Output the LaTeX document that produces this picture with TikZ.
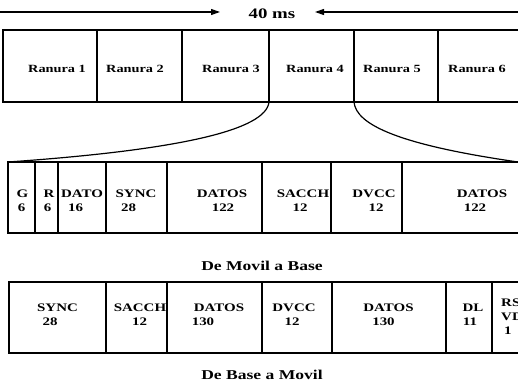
\documentclass[tikz,border=0pt]{standalone}
\usepackage{fontspec}
\setmainfont[FakeStretch=1.3]{Liberation Serif}
\usetikzlibrary{arrows.meta}
\tikzset{
  boxst/.style={draw, line width=1.2pt, inner sep=0pt, outer sep=0pt, rectangle},
  txt/.style={inner sep=0pt, font=\fontsize{11.5}{14}\selectfont\bfseries},
  rtxt/.style={inner sep=0pt, font=\fontsize{11}{13}\selectfont\bfseries},
  lbl/.style={inner sep=0pt, font=\fontsize{13.5}{16}\selectfont\bfseries},
  curve/.style={line width=1.2pt},
  timearrow/.style={line width=1.1pt, -{Triangle[length=9pt,width=6pt]}}
}
\newcommand\mybox[5]{\node[boxst, anchor=north west, minimum width={#3-#2}, minimum height={#5-#4}] (#1) at (#2,#4) {};}
\begin{document}
\begin{tikzpicture}[x=1pt,y=-1pt]
\useasboundingbox (0,0) rectangle (518,385);
\clip (0,0) rectangle (518,385);
\fill[white] (0,0) rectangle (518,385);
% time arrows
\node[lbl, font=\fontsize{14.5}{16}\selectfont\bfseries] (ms) at (272,14) {40 ms};
\coordinate (la) at (0,12);
\coordinate (lt) at (220,12);
\coordinate (ra) at (518,12);
\coordinate (rt) at (315,12);
\draw[timearrow] (la) -- (lt);
\draw[timearrow] (ra) -- (rt);
% top row
\mybox{r1}{3}{97}{30}{102}
\mybox{r2}{97}{182}{30}{102}
\mybox{r3}{182}{269}{30}{102}
\mybox{r4}{269}{354}{30}{102}
\mybox{r5}{354}{438}{30}{102}
\mybox{r6}{438}{530}{30}{102}
\node[rtxt] (t1) at (57,69) {Ranura 1};
\node[rtxt] (t2) at (135,69) {Ranura 2};
\node[rtxt] (t3) at (231,69) {Ranura 3};
\node[rtxt] (t4) at (315,69) {Ranura 4};
\node[rtxt] (t5) at (392,69) {Ranura 5};
\node[rtxt] (t6) at (477,69) {Ranura 6};
% middle row
\mybox{m1}{8}{35}{162}{233}
\mybox{m2}{35}{58}{162}{233}
\mybox{m3}{58}{106}{162}{233}
\mybox{m4}{106}{167}{162}{233}
\mybox{m5}{167}{262}{162}{233}
\mybox{m6}{262}{331}{162}{233}
\mybox{m7}{331}{402}{162}{233}
\mybox{m8}{402}{530}{162}{233}
\coordinate (mr) at (518,162);
\draw[curve] (r4.south west) .. controls (266,130) and (180,150) .. (m1.north west);
\draw[curve] (r4.south east) .. controls (356,125) and (400,145) .. (mr);
\node[txt] (a1) at (22.5,193.5) {G};   \node[txt] (a2) at (21.5,207.5) {6};
\node[txt] (b1) at (49,193.5) {R};     \node[txt] (b2) at (47.5,207.5) {6};
\node[txt] (c1) at (82,193.5) {DATO};  \node[txt] (c2) at (75.5,207.5) {16};
\node[txt] (d1) at (136,193.5) {SYNC}; \node[txt] (d2) at (128.5,207.5) {28};
\node[txt] (e1) at (222,193.5) {DATOS};\node[txt] (e2) at (223,207.5) {122};
\node[txt] (f1) at (303,193.5) {SACCH};\node[txt] (f2) at (300,207.5) {12};
\node[txt] (g1) at (374,193.5) {DVCC}; \node[txt] (g2) at (376,207.5) {12};
\node[txt] (h1) at (482,193.5) {DATOS};\node[txt] (h2) at (475,207.5) {122};
\node[lbl] (up) at (262,266) {De Movil a Base};
% bottom row
\mybox{n1}{9}{106}{282}{353}
\mybox{n2}{106}{167}{282}{353}
\mybox{n3}{167}{262}{282}{353}
\mybox{n4}{262}{332}{282}{353}
\mybox{n5}{332}{446}{282}{353}
\mybox{n6}{446}{492}{282}{353}
\mybox{n7}{492}{530}{282}{353}
\node[txt] (p1) at (57.5,307.5) {SYNC};  \node[txt] (p2) at (50,322) {28};
\node[txt] (q1) at (140,307.5) {SACCH}; \node[txt] (q2) at (139.5,322) {12};
\node[txt] (s1) at (219,307.5) {DATOS}; \node[txt] (s2) at (203,322) {130};
\node[txt] (u1) at (294,307.5) {DVCC};  \node[txt] (u2) at (292,322) {12};
\node[txt] (v1) at (388.5,307.5) {DATOS};\node[txt] (v2) at (383.5,322) {130};
\node[txt] (w1) at (473,307.5) {DL};    \node[txt] (w2) at (470,322) {11};
\node[txt, anchor=north west, align=left] (z1) at (501,299) {RS\\VD\\\hspace{3pt}1};
\node[lbl] (dn) at (262,375) {De Base a Movil};
\end{tikzpicture}
\end{document}
